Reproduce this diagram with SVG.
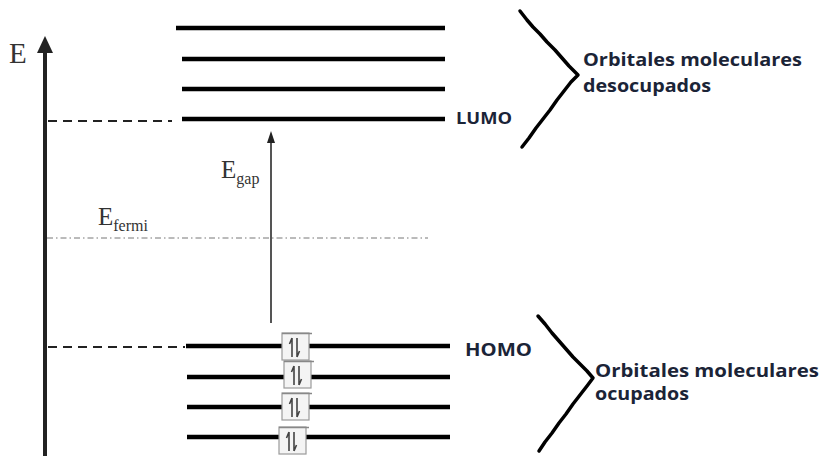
<svg xmlns="http://www.w3.org/2000/svg" width="822" height="461" viewBox="0 0 822 461">
<style>
.lvl{stroke:#000;stroke-width:4.5;fill:none}
.dash{stroke:#222;stroke-width:2;stroke-dasharray:9 6;fill:none}
.lbl{font-family:"Open Sans","Liberation Sans",sans-serif;font-weight:700;fill:#1b2437}
.tm{font-family:"Liberation Serif","DejaVu Serif",serif;fill:#333}
.brk{stroke:#000;stroke-width:3.5;fill:none;stroke-linejoin:round;stroke-linecap:round}
.box{fill:#f4f4f4;stroke:#9a9a9a;stroke-width:1.2}
.el{stroke:#444;stroke-width:1.6;fill:none}
</style>
<defs>
<g id="pair">
<rect class="box" x="0" y="0" width="27" height="27"/>
<line x1="0" y1="0.5" x2="30" y2="0.5" stroke="#888" stroke-width="1.5"/>
<path class="el" d="M10 24 V5 M10 5 L7.5 11"/>
<path class="el" d="M15 5 V24 M15 24 L17.5 18"/>
</g>
</defs>
<rect width="822" height="461" fill="#fff"/>
<g id="axis">
<line x1="45" y1="456" x2="45" y2="48" stroke="#222" stroke-width="4"/>
<polygon points="45,36 37,53 53,53" fill="#222"/>
<text class="tm" x="9" y="63" font-size="29">E</text>
</g>
<g id="connectors">
<line class="dash" x1="48" y1="121" x2="172" y2="121"/>
<line class="dash" x1="48" y1="347" x2="185" y2="347"/>
<line x1="47" y1="238" x2="428" y2="238" stroke="#777" stroke-width="1" stroke-dasharray="6 3 1.5 3"/>
<line x1="271" y1="323" x2="271" y2="142" stroke="#555" stroke-width="2"/>
<polygon points="271,131 267,143 275,143" fill="#222"/>
</g>
<g id="lumo-levels">
<line class="lvl" x1="176" y1="28" x2="445" y2="28"/>
<line class="lvl" x1="182" y1="59" x2="445" y2="59"/>
<line class="lvl" x1="182" y1="89" x2="445" y2="89"/>
<line class="lvl" x1="182" y1="119" x2="445" y2="119"/>
<text class="lbl" x="456" y="124" font-size="16" textLength="56" lengthAdjust="spacingAndGlyphs">LUMO</text>
</g>
<g id="homo-levels">
<line class="lvl" x1="186" y1="346" x2="450" y2="346"/>
<line class="lvl" x1="187" y1="377" x2="450" y2="377"/>
<line class="lvl" x1="187" y1="407" x2="450" y2="407"/>
<line class="lvl" x1="187" y1="437" x2="450" y2="437"/>
<use href="#pair" x="282" y="333"/>
<use href="#pair" x="284" y="361"/>
<use href="#pair" x="282" y="393"/>
<use href="#pair" x="279" y="427"/>
<text class="lbl" x="465" y="356" font-size="17" textLength="67" lengthAdjust="spacingAndGlyphs">HOMO</text>
</g>
<g id="egap-label">
<text class="tm" x="221" y="178" font-size="25">E<tspan font-size="16" dy="6">gap</tspan></text>
</g>
<g id="efermi-label">
<text class="tm" x="98" y="225" font-size="25">E<tspan font-size="16" dy="6">fermi</tspan></text>
</g>
<g id="unoccupied-group">
<polyline class="brk" points="520,11 527,20 533,27 540,34 547,42 555,50 562,58 569,66 578,75 571,82 564,91 557,100 550,110 543,119 536,128 529,138 522,147"/>
<text class="lbl" x="583" y="66" font-size="18" textLength="219" lengthAdjust="spacingAndGlyphs">Orbitales moleculares</text>
<text class="lbl" x="583" y="92" font-size="18" textLength="128" lengthAdjust="spacingAndGlyphs">desocupados</text>
</g>
<g id="occupied-group">
<polyline class="brk" points="538,316 545,324 552,333 559,341 566,349 573,357 580,364 587,371 593,378 587,386 580,395 573,404 566,414 559,423 552,433 545,442 539,451"/>
<text class="lbl" x="595" y="377" font-size="18" textLength="224" lengthAdjust="spacingAndGlyphs">Orbitales moleculares</text>
<text class="lbl" x="595" y="400" font-size="18" textLength="94" lengthAdjust="spacingAndGlyphs">ocupados</text>
</g>
</svg>
